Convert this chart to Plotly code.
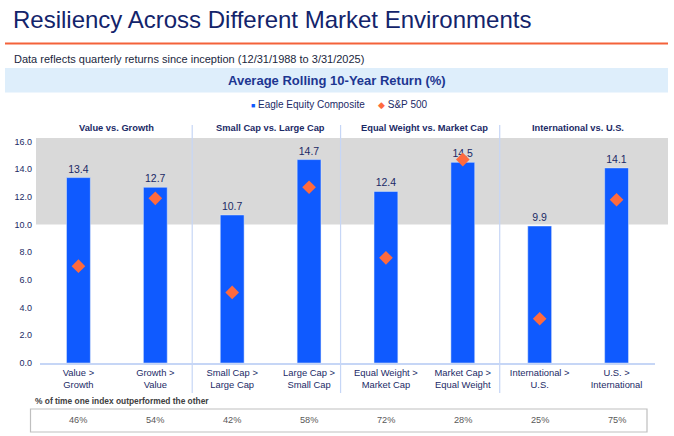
import plotly.graph_objects as go

# ---------------- data ----------------
categories = ["Value ><br>Growth", "Growth ><br>Value",
              "Small Cap ><br>Large Cap", "Large Cap ><br>Small Cap",
              "Equal Weight ><br>Market Cap", "Market Cap ><br>Equal Weight",
              "International ><br>U.S.", "U.S. ><br>International"]
eagle = [13.4, 12.7, 10.7, 14.7, 12.4, 14.5, 9.9, 14.1]
sp500 = [7.0, 11.9, 5.1, 12.7, 7.6, 14.7, 3.2, 11.8]
outperf = ["46%", "54%", "42%", "58%", "72%", "28%", "25%", "75%"]
groups = ["Value vs. Growth", "Small Cap vs. Large Cap",
          "Equal Weight vs. Market Cap", "International vs. U.S."]
y_ticks = [0, 2, 4, 6, 8, 10, 12, 14, 16]
band_lo = 10
y_max = 16.26

# ---------------- layout geometry ----------------
W, H = 674, 436
L, R, T, B = 40, 19, 138, 73
PW, PH = W - L - R, H - T - B
FONT = "Liberation Sans, Arial, sans-serif"
NAVY = "#1b2a66"
TITLE = "#13246b"
BLUE = "#0f5aff"
ORANGE = "#ff6a3d"
SEP = "#c6d6f6"


def px_x(px):
    return (px - L) / PW


def px_y(py):
    return (H - B - py) / PH


fig = go.Figure()
fig.add_trace(go.Bar(
    x=categories, y=eagle, name="Eagle Equity Composite",
    marker_color=BLUE, width=0.31,
    texttemplate="%{y:.1f}", textposition="outside",
    textfont=dict(size=10.5, color=NAVY, family=FONT),
    cliponaxis=False, showlegend=False,
))
fig.add_trace(go.Scatter(
    x=categories, y=sp500, name="S&P 500", mode="markers",
    marker=dict(symbol="diamond", size=10.5, color=ORANGE),
    cliponaxis=False, showlegend=False,
))

shapes = []
# gray band 10-16
shapes.append(dict(type="rect", xref="paper", yref="paper",
                   x0=px_x(36), x1=px_x(668), y0=band_lo / y_max, y1=1,
                   fillcolor="#d9d9d9", line_width=0, layer="below"))
# orange rule under title
shapes.append(dict(type="line", xref="paper", yref="paper",
                   x0=px_x(5), x1=px_x(668), y0=px_y(43.5), y1=px_y(43.5),
                   line=dict(color="#f4623a", width=2)))
# light blue header band
shapes.append(dict(type="rect", xref="paper", yref="paper",
                   x0=px_x(5), x1=px_x(668), y0=px_y(92.5), y1=px_y(68),
                   fillcolor="#deeefb", line_width=0, layer="below"))
# group separators
for sx in [1.48, 3.41, 5.48]:
    shapes.append(dict(type="line", xref="x", yref="paper",
                       x0=sx, x1=sx, y0=px_y(393), y1=px_y(125),
                       line=dict(color=SEP, width=1.2)))
# table box
shapes.append(dict(type="rect", xref="paper", yref="paper",
                   x0=px_x(30.5), x1=px_x(647), y0=px_y(432), y1=px_y(409),
                   fillcolor="rgba(0,0,0,0)", line=dict(color="#bfbfbf", width=1.2)))

ann = []
ann.append(dict(text="Resiliency Across Different Market Environments",
                xref="paper", yref="paper", x=px_x(11), y=px_y(20),
                xanchor="left", yanchor="middle", showarrow=False,
                font=dict(size=24, color=TITLE, family=FONT)))
ann.append(dict(text="Data reflects quarterly returns since inception (12/31/1988 to 3/31/2025)",
                xref="paper", yref="paper", x=px_x(12), y=px_y(59),
                xanchor="left", yanchor="middle", showarrow=False,
                font=dict(size=11, color="#1a1f3d", family=FONT)))
ann.append(dict(text="<b>Average Rolling 10-Year Return (%)</b>",
                xref="paper", yref="paper", x=px_x(337), y=px_y(80.5),
                xanchor="center", yanchor="middle", showarrow=False,
                font=dict(size=13, color="#1d3691", family=FONT)))
# legend
ann.append(dict(text="<span style='color:%s;font-size:7px'>■</span> Eagle Equity Composite" % BLUE,
                xref="paper", yref="paper", x=px_x(249), y=px_y(105),
                xanchor="left", yanchor="middle", showarrow=False,
                font=dict(size=10, color=NAVY, family=FONT)))
ann.append(dict(text="<span style='color:%s;font-size:9px'>◆</span> S&P 500" % ORANGE,
                xref="paper", yref="paper", x=px_x(376), y=px_y(105),
                xanchor="left", yanchor="middle", showarrow=False,
                font=dict(size=10, color=NAVY, family=FONT)))
# group headers
for i, g in enumerate(groups):
    ann.append(dict(text="<b>%s</b>" % g, xref="x", yref="paper",
                    x=2 * i + 0.5, y=px_y(128), xanchor="center", yanchor="middle",
                    showarrow=False, font=dict(size=9.3, color=NAVY, family=FONT)))
# table
ann.append(dict(text="<b>% of time one index outperformed the other</b>",
                xref="paper", yref="paper", x=px_x(33), y=px_y(401),
                xanchor="left", yanchor="middle", showarrow=False,
                font=dict(size=8.4, color="#404040", family=FONT)))
for i, p in enumerate(outperf):
    ann.append(dict(text=p, xref="x", yref="paper", x=i, y=px_y(419.5),
                    xanchor="center", yanchor="middle", showarrow=False,
                    font=dict(size=9.2, color="#595959", family=FONT)))

fig.update_layout(
    width=W, height=H,
    margin=dict(l=L, r=R, t=T, b=B, pad=0),
    paper_bgcolor="white", plot_bgcolor="rgba(0,0,0,0)",
    font=dict(family=FONT, color=NAVY),
    shapes=shapes, annotations=ann,
    showlegend=False,
    xaxis=dict(type="category", range=[-0.5, 7.5], showgrid=False, zeroline=False,
               showline=True, linecolor=SEP, linewidth=1.5, ticks="",
               tickfont=dict(size=9.4, color=NAVY, family=FONT), fixedrange=True),
    yaxis=dict(range=[0, y_max], tickvals=y_ticks, tickformat=".1f",
               showgrid=False, zeroline=False, showline=False, ticks="",
               ticklabelstandoff=7,
               tickfont=dict(size=9, color=NAVY, family=FONT), fixedrange=True),
)

fig.write_html("out.html", config={"displayModeBar": False})
